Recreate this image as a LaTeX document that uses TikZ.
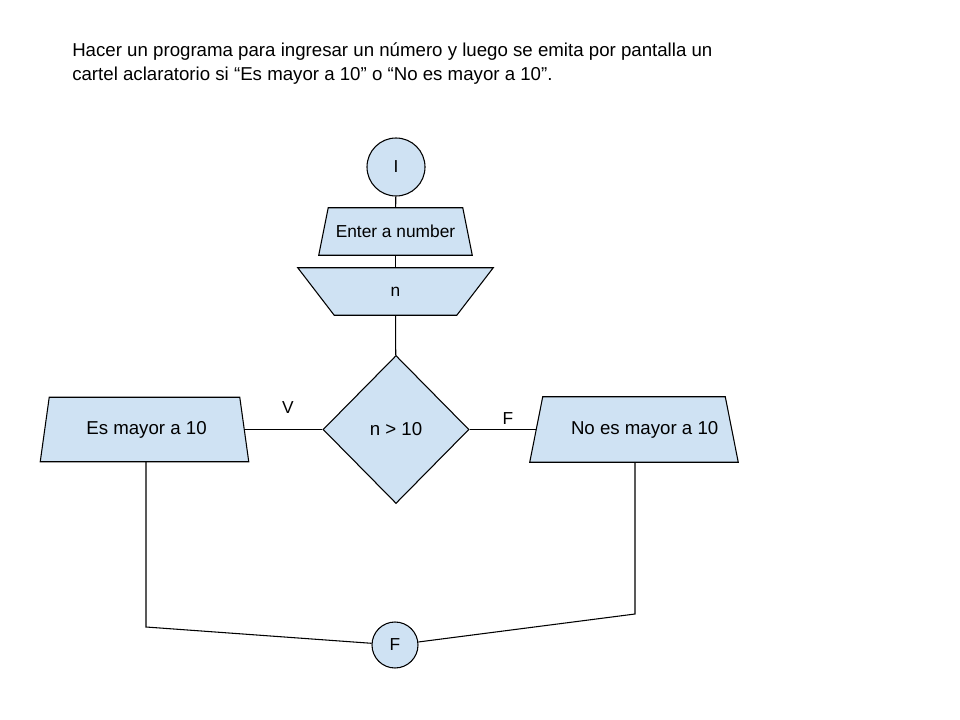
\documentclass[tikz,border=0pt]{standalone}
\usepackage{fontspec}
\setmainfont{Liberation Sans}
\usepackage{tikz}
\usetikzlibrary{shapes.geometric,backgrounds}
\definecolor{boxblue}{HTML}{CFE2F3}
\tikzstyle{line} = [line width=0.8pt]
\tikzstyle{term} = [draw, line, circle, fill=boxblue, inner sep=0pt, font=\fontsize{13}{15}\selectfont]
\tikzstyle{io} = [rectangle, inner sep=0pt, font=\fontsize{13}{15}\selectfont]
\tikzstyle{decision} = [draw, line, diamond, fill=boxblue, inner sep=0pt, font=\fontsize{14}{16}\selectfont]
% trapezoid round an io node: #1 node, #2 slant (px, > 0 wider at the bottom)
\newcommand{\trapbox}[2]{%
    \draw[line, fill=boxblue] ([xshift=#2*0.75pt]#1.north west) -- ([xshift=-#2*0.75pt]#1.north east)
        -- ([xshift=#2*0.75pt]#1.south east) -- ([xshift=-#2*0.75pt]#1.south west) -- cycle;}

\begin{document}
\begin{tikzpicture}[x=0.75pt, y=-0.75pt]
    \def \u {0.75pt}
    \useasboundingbox (0,0) rectangle (960,720);
    \node[anchor=north west, align=left, inner sep=0pt, font=\fontsize{14}{18}\selectfont] (title) at (72,42)
        {Hacer un programa para ingresar un número y luego se emita por pantalla un\\
         cartel aclaratorio si “Es mayor a 10” o “No es mayor a 10”.};
    \node[term, minimum size=58*\u] (ini) at (396,167) {I};
    \node[io, minimum width=143.5*\u, minimum height=47*\u] (enter) at (395.5,231.5) {Enter a number};
    \node[io, minimum width=158.5*\u, minimum height=47*\u] (num) at (395.5,291.5) {n};
    \node[decision, minimum width=146*\u, minimum height=148*\u] (cond) at (396,429.5) {n > 10};
    \node[io, minimum width=199*\u, minimum height=64*\u, font=\fontsize{14}{16}\selectfont] (yes) at (144.5,429.5) {\hspace*{3pt}Es mayor a 10};
    \node[io, minimum width=195*\u, minimum height=65*\u, font=\fontsize{14}{16}\selectfont] (no) at (634,429.5) {\hspace*{16pt}No es mayor a 10};
    \node[term, minimum size=46*\u] (fin) at (395,645) {F};
    \node[font=\fontsize{13}{15}\selectfont] (vlab) at (288,408) {V};
    \node[font=\fontsize{13}{15}\selectfont] (flab) at (508,419) {F};
    \coordinate (ljoin) at (146,627);
    \coordinate (rjoin) at (635,614);
    \begin{pgfonlayer}{background}
        \trapbox{enter}{4.75}
        \trapbox{num}{-18.25}
        \trapbox{yes}{4.5}
        \trapbox{no}{6.5}
    \end{pgfonlayer}
    % main column
    \draw[line] (ini) -- (enter);
    \draw[line] (enter) -- (num);
    \draw[line] (num) -- (cond);
    \draw[line] (cond.west) -- (yes.east);
    \draw[line] (cond.east) -- (no.west);
    % back to the end
    \draw[line] (yes.south -| ljoin) -- (ljoin) -- (fin);
    \draw[line] (no.south -| rjoin) -- (rjoin) -- (fin);
\end{tikzpicture}
\end{document}
